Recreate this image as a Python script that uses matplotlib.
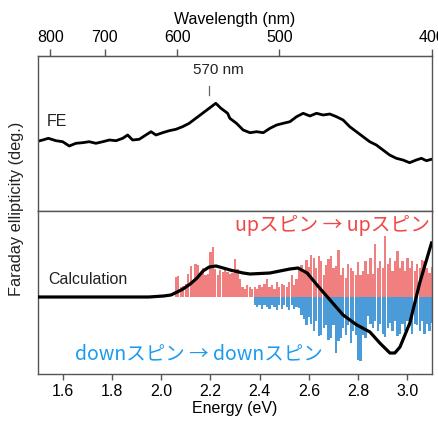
import numpy as np
import matplotlib
matplotlib.use("Agg")
import matplotlib.pyplot as plt

plt.rcParams['font.family'] = ['Liberation Sans', 'Noto Sans CJK JP', 'DejaVu Sans']

# ---- data ----
# FE measured trace: energy (eV), ellipticity (arb.)
fe_energy = [1.492, 1.519, 1.542, 1.573, 1.600, 1.627, 1.654, 1.681, 1.708, 1.735,
             1.763, 1.790, 1.817, 1.844, 1.864, 1.884, 1.911, 1.938, 1.959, 1.979,
             2.006, 2.033, 2.060, 2.087, 2.114, 2.141, 2.168, 2.195, 2.222, 2.243,
             2.270, 2.279, 2.306, 2.333, 2.361, 2.388, 2.415, 2.442, 2.469, 2.496,
             2.523, 2.550, 2.577, 2.604, 2.631, 2.658, 2.685, 2.712, 2.739, 2.766,
             2.793, 2.820, 2.847, 2.874, 2.901, 2.928, 2.955, 2.982, 3.009, 3.036,
             3.057, 3.077, 3.098]
fe_value = [69.3, 71.0, 72.7, 70.3, 69.3, 65.0, 67.7, 68.3, 69.3, 67.7,
            69.3, 71.0, 70.3, 72.7, 76.0, 71.0, 71.7, 76.0, 79.3, 76.0,
            78.3, 80.3, 81.7, 84.3, 87.7, 92.7, 97.7, 102.7, 107.7, 102.7,
            97.7, 92.7, 87.7, 81.0, 78.3, 79.3, 78.3, 82.7, 86.0, 87.7,
            89.3, 94.3, 97.7, 95.0, 97.7, 96.0, 97.0, 94.3, 91.0, 84.3,
            79.3, 74.3, 69.3, 66.0, 61.0, 56.0, 52.7, 51.0, 48.3, 51.0,
            52.7, 50.3, 51.7]

# Calculation curve: energy (eV), value (arb.)
calc_energy = [1.500, 1.750, 1.950, 2.010, 2.040, 2.065, 2.089, 2.118, 2.146, 2.170,
               2.195, 2.223, 2.252, 2.280, 2.333, 2.361, 2.442, 2.523, 2.556, 2.593,
               2.633, 2.686, 2.739, 2.795, 2.848, 2.888, 2.929, 2.949, 2.970, 3.010,
               3.050, 3.098]
calc_value = [0, 0, 0, 1, 2, 5, 8, 13, 19, 26,
              30, 31, 29, 27, 24, 23, 24, 28, 29, 24,
              12, -3, -18, -28, -35, -46, -56, -56, -50, -26,
              14, 54]

# Transition bars
up_energy = np.round(np.arange(2.06, 3.105, 0.01), 2)
up_height = [20, 21, 10, 11, 13, 23, 31, 15, 33, 32,
             24, 29, 22, 23, 45, 50, 28, 22, 27, 25,
             27, 25, 23, 24, 38, 28, 18, 10, 8, 12,
             10, 8, 10, 8, 12, 10, 13, 18, 10, 12,
             8, 15, 10, 13, 12, 10, 15, 22, 12, 18,
             29, 32, 24, 37, 30, 42, 39, 29, 41, 36,
             22, 32, 38, 41, 29, 31, 47, 22, 29, 19,
             33, 29, 26, 22, 35, 22, 26, 36, 23, 39,
             23, 53, 29, 36, 29, 61, 33, 39, 26, 36,
             46, 29, 36, 26, 39, 29, 36, 26, 33, 29,
             37, 36, 29, 24, 30]
down_energy = np.round(np.arange(2.38, 3.105, 0.01), 2)
down_depth = [8, 10, 8, 12, 8, 10, 12, 8, 10, 13,
              8, 12, 8, 10, 13, 8, 12, 10, 11, 18,
              22, 28, 20, 27, 34, 24, 39, 38, 31, 28,
              43, 41, 28, 56, 44, 41, 31, 38, 28, 46,
              34, 38, 63, 64, 38, 41, 19, 27, 31, 24,
              34, 27, 37, 40, 31, 26, 34, 24, 39, 37,
              27, 34, 24, 29, 37, 27, 28, 34, 24, 37,
              27, 34, 26]

wl_ticks = [800, 700, 600, 500, 400]
energy_ticks = [1.6, 1.8, 2.0, 2.2, 2.4, 2.6, 2.8, 3.0]

# ---- figure ----
fig = plt.figure(figsize=(4.38, 4.28), dpi=100)
L, W = 38 / 438, 394 / 438
ax1 = fig.add_axes([L, 1 - 211 / 428, W, 155 / 428])
ax2 = fig.add_axes([L, 1 - 374 / 428, W, 163 / 428], sharex=ax1)

spine_c = '#555555'
for ax in (ax1, ax2):
    for s in ax.spines.values():
        s.set_color(spine_c)
        s.set_linewidth(1.0)
    ax.set_yticks([])
    ax.set_xlim(1.5, 3.1)

# top panel
ax1.plot(fe_energy, fe_value, color='black', lw=2.0, solid_joinstyle='round')
ax1.set_ylim(0, 155)
ax1.tick_params(axis='x', which='both', bottom=False, labelbottom=False)
ax1.text(0.023, 0.58, 'FE', transform=ax1.transAxes, fontsize=11.5,
         va='center', ha='left', color='#222222')
ax1.plot([2.195, 2.195], [116, 125], color='#666666', lw=0.9)
ax1.text(2.232, 141, '570 nm', fontsize=11, ha='center', va='center', color='#222222')

sec = ax1.secondary_xaxis('top', functions=(lambda e: 1239.84 / np.asarray(e, float),
                                             lambda l: 1239.84 / np.asarray(l, float)))
sec.set_xticks(wl_ticks)
sec.set_xticklabels([str(t) for t in wl_ticks])
sec.tick_params(direction='out', length=5, width=1.0, color=spine_c,
                labelsize=11.5, pad=3)
sec.spines['top'].set_color(spine_c)
sec.set_xlabel('Wavelength (nm)', fontsize=11.5, labelpad=4)

# bottom panel
ax2.bar(up_energy, up_height, width=0.0092, color='#f08080', linewidth=0, zorder=1)
ax2.bar(down_energy, [-d for d in down_depth], width=0.0092, color='#4b9bd8',
        linewidth=0, zorder=1)
ax2.plot(calc_energy, calc_value, color='black', lw=2.3, zorder=3)
ax2.set_ylim(-77, 86)
ax2.set_xticks(energy_ticks)
ax2.set_xticklabels([f'{t:.1f}' for t in energy_ticks])
ax2.tick_params(axis='x', direction='out', length=4.5, width=1.0, color=spine_c,
                labelsize=11.5, pad=3)
ax2.set_xlabel('Energy (eV)', fontsize=11.5, labelpad=1)
ax2.text(0.025, 0.577, 'Calculation', transform=ax2.transAxes, fontsize=11.5,
         va='center', ha='left', color='#222222')
jp = ['Noto Sans CJK JP', 'DejaVu Sans']
ax2.text(0.995, 0.908, 'upスピン → upスピン', transform=ax2.transAxes, fontsize=14.2,
         va='center', ha='right', color='#f04848', family=jp)
ax2.text(0.094, 0.123, 'downスピン → downスピン', transform=ax2.transAxes, fontsize=14,
         va='center', ha='left', color='#1a9af0', family=jp)

fig.text(17 / 438, 1 - 209 / 428, 'Faraday ellipticity (deg.)', rotation=90,
         fontsize=11.8, va='center', ha='center', color='#222222')

fig.savefig('out.png', dpi=100)
